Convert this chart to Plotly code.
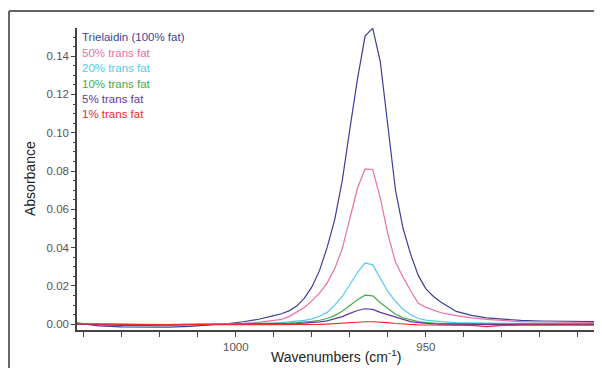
import plotly.graph_objects as go

wavenumbers = [1042, 1036, 1030, 1024, 1018, 1012, 1006, 1002, 998, 994, 990, 988, 986, 984, 982,
               980, 978, 976, 974, 972, 970, 968, 966, 964, 962, 960, 958, 956, 954, 952, 950, 948, 946,
               942, 938, 934, 930, 925, 920, 915, 910, 905]

trielaidin = [0.0008, -0.0008, -0.0014, -0.0015, -0.0015, -0.0011, -0.0003, 0.0004,
              0.0013, 0.0026, 0.0045, 0.0055, 0.0070, 0.0095, 0.0135,
              0.0195, 0.0280, 0.0400, 0.0545, 0.0750, 0.1020, 0.1280, 0.1505, 0.1546, 0.1371, 0.1025,
              0.0700, 0.0500, 0.0365, 0.0255, 0.0185, 0.0145, 0.0115,
              0.0067, 0.0046, 0.0033, 0.0026, 0.0020, 0.0017, 0.0015, 0.0014, 0.0014]

trans50 = [0.0003, 0.0000, -0.0003, -0.0003, -0.0002, -0.0001, 0.0000, 0.0002,
           0.0005, 0.0010, 0.0018, 0.0025, 0.0040, 0.0062, 0.0088,
           0.0122, 0.0162, 0.0215, 0.0290, 0.0395, 0.0550, 0.0710, 0.0811, 0.0808, 0.0660, 0.0470,
           0.0325, 0.0245, 0.0175, 0.0110, 0.0088, 0.0072, 0.0060,
           0.0045, 0.0033, 0.0025, 0.0019, 0.0014, 0.0012, 0.0010, 0.0009, 0.0009]

trans20 = [0.0002, 0.0001, -0.0002, -0.0002, -0.0002, -0.0001, 0.0000, 0.0001,
           0.0002, 0.0004, 0.0006, 0.0008, 0.0011, 0.0015, 0.0020,
           0.0028, 0.0042, 0.0062, 0.0100, 0.0145, 0.0205, 0.0270, 0.0320, 0.0310, 0.0240, 0.0170,
           0.0120, 0.0078, 0.0050, 0.0030, 0.0022, 0.0017, 0.0014,
           0.0009, 0.0007, 0.0006, 0.0005, 0.0005, 0.0004, 0.0004, 0.0004, 0.0004]

trans10 = [0.0001, 0.0000, -0.0002, -0.0002, -0.0002, -0.0001, 0.0000, 0.0000,
           0.0001, 0.0002, 0.0003, 0.0004, 0.0006, 0.0008, 0.0011,
           0.0015, 0.0021, 0.0030, 0.0045, 0.0068, 0.0098, 0.0128, 0.0152, 0.0148, 0.0112, 0.0080,
           0.0052, 0.0034, 0.0022, 0.0014, 0.0009, 0.0006, 0.0004,
           0.0003, 0.0002, 0.0002, 0.0002, 0.0001, 0.0001, 0.0001, 0.0001, 0.0001]

trans5 = [0.0000, -0.0004, -0.0006, -0.0006, -0.0005, -0.0004, -0.0002, 0.0000,
          0.0000, 0.0001, 0.0001, 0.0002, 0.0003, 0.0004, 0.0006,
          0.0008, 0.0012, 0.0018, 0.0027, 0.0040, 0.0057, 0.0072, 0.0081, 0.0078, 0.0062, 0.0050,
          0.0035, 0.0022, 0.0014, 0.0008, 0.0004, 0.0002, 0.0001,
          0.0000, -0.0002, -0.0003, -0.0002, -0.0001, -0.0001, -0.0001, -0.0001, -0.0001]

trans1 = [0.0002, 0.0000, -0.0002, -0.0002, -0.0002, -0.0002, -0.0002, -0.0003,
          -0.0003, -0.0003, -0.0004, -0.0004, -0.0004, -0.0004, -0.0004,
          -0.0003, -0.0001, 0.0001, 0.0004, 0.0007, 0.0010, 0.0012, 0.0013, 0.0013, 0.0012, 0.0008,
          0.0004, 0.0001, -0.0002, -0.0003, -0.0004, -0.0004, -0.0005,
          -0.0005, -0.0006, -0.0012, -0.0006, -0.0005, -0.0005, -0.0005, -0.0005, -0.0005]

series_names = ["Trielaidin (100% fat)", "50% trans fat", "20% trans fat",
                "10% trans fat", "5% trans fat", "1% trans fat"]
series_values = [trielaidin, trans50, trans20, trans10, trans5, trans1]
series_colors = ["#3b3f97", "#ec6ea5", "#55c9ef", "#3fae49", "#63389a", "#ee2a2e"]

x_tickvals = [1040, 1030, 1020, 1010, 1000, 990, 980, 970, 960, 950, 940, 930, 920, 910]
x_ticktext = ["", "", "", "", "1000", "", "", "", "", "950", "", "", "", ""]

FONT = "Arial, Liberation Sans, sans-serif"
OFF = 8  # page body margin in the browser
W, H = 602 - OFF, 368 - OFF
# plot area in page pixels: left 77, right 595, top 28, bottom 330
ML, MR, MT, MB = 77 - OFF, 602 - 595, 28 - OFF, 368 - 330
PW, PH = W - ML - MR, H - MT - MB


def px_x(px):
    return (px - OFF - ML) / PW


def px_y(py):
    return (H - MB - (py - OFF)) / PH


fig = go.Figure()
for name, vals, col in zip(series_names, series_values, series_colors):
    fig.add_trace(go.Scatter(x=wavenumbers, y=vals, mode="lines", name=name,
                             line=dict(color=col, width=1.2), showlegend=False))

# text-only legend
for i, (name, col) in enumerate(zip(series_names, series_colors)):
    fig.add_annotation(text=name, xref="paper", yref="paper",
                       x=px_x(80), y=px_y(37 + i * 15.5), xanchor="left", yanchor="middle",
                       showarrow=False, font=dict(color=col, size=11.5, family=FONT))

# axis titles
fig.add_annotation(text="Absorbance", xref="paper", yref="paper", x=px_x(30), y=px_y(179),
                   xanchor="center", yanchor="middle", textangle=-90, showarrow=False,
                   font=dict(size=14, color="#222222", family=FONT))
fig.add_annotation(text="Wavenumbers (cm<sup>-1</sup>)", xref="paper", yref="paper",
                   x=px_x(336), y=px_y(356), xanchor="center", yanchor="middle", showarrow=False,
                   font=dict(size=14, color="#222222", family=FONT))

# outer frame (left and top visible)
fig.add_shape(type="line", xref="paper", yref="paper", x0=px_x(9), x1=px_x(9),
              y0=px_y(372), y1=px_y(11), line=dict(color="#333333", width=1.5))
fig.add_shape(type="line", xref="paper", yref="paper", x0=px_x(9), x1=px_x(606),
              y0=px_y(11), y1=px_y(11), line=dict(color="#666666", width=2))

fig.update_layout(
    width=W, height=H,
    margin=dict(l=ML, r=MR, t=MT, b=MB, autoexpand=False),
    paper_bgcolor="white", plot_bgcolor="white",
    font=dict(family=FONT, color="#555555", size=11),
    xaxis=dict(range=[1041.8, 905.5], tickvals=x_tickvals, ticktext=x_ticktext,
               ticks="outside", ticklen=5, tickcolor="#444444", showline=True,
               linecolor="#444444", linewidth=1.5, showgrid=False, zeroline=False,
               automargin=False, tickfont=dict(size=11.5, color="#555555")),
    yaxis=dict(range=[-0.003, 0.1547], dtick=0.02, tick0=0, tickformat=".2f",
               ticks="outside", ticklen=4, tickcolor="#444444", showline=True,
               linecolor="#444444", linewidth=1.5, showgrid=False, zeroline=False,
               automargin=False, tickfont=dict(size=11.5, color="#555555"),
               minor=dict(dtick=0.005, ticks="outside", ticklen=2, tickcolor="#444444")),
)

fig.write_html("out.html")
